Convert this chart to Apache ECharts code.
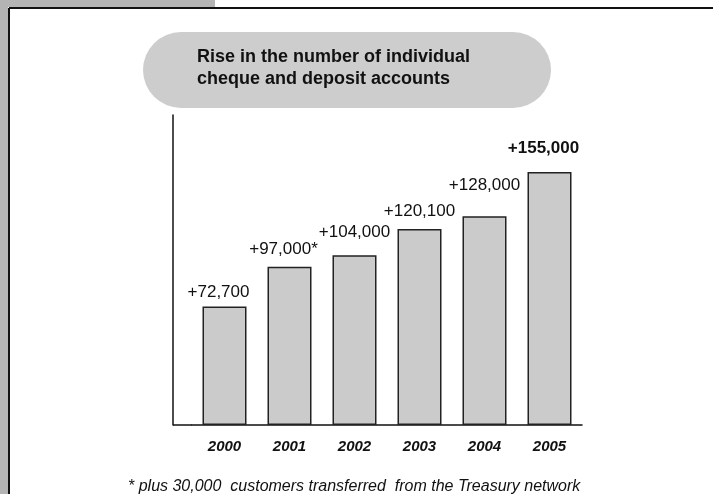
<!DOCTYPE html>
<html>
<head>
<meta charset="utf-8">
<script src="https://cdn.jsdelivr.net/npm/echarts@6/dist/echarts.min.js"></script>
<style>
html,body{margin:0;padding:0;background:#fff;}
#chart{width:713px;height:494px;}
</style>
</head>
<body>
<div id="chart"></div>
<script>
// ---- data ----
const years = ['2000', '2001', '2002', '2003', '2004', '2005'];
const increases = [72700, 97000, 104000, 120100, 128000, 155000];
const footnoteMarks = ['', '*', '', '', '', ''];
const titleText = 'Rise in the number of individual\ncheque and deposit accounts';
const footnoteText = '* plus 30,000  customers transferred  from the Treasury network';

// ---- label styling (not data) ----
const labelDistance = [6, 9, 15, 9, 22, 15];
const labelShiftX = [-6, -6, 0, 0, 0, -6];
const boldLast = true;

const chart = echarts.init(document.getElementById('chart'), null, {renderer: 'canvas'});

const fontFam = '"Liberation Sans", Arial, Helvetica, sans-serif';

const barData = increases.map((v, i) => ({
  value: v,
  label: {
    distance: labelDistance[i],
    offset: [labelShiftX[i], 0],
    fontWeight: (boldLast && i === increases.length - 1) ? 'bold' : 'normal'
  }
}));

const option = {
  backgroundColor: '#ffffff',
  animation: false,
  title: [
    {
      text: titleText,
      left: 143,
      top: 32,
      padding: [14, 81, 18, 54],
      backgroundColor: '#cdcdcd',
      borderRadius: 38,
      textStyle: {
        fontFamily: fontFam,
        fontSize: 18,
        fontWeight: 'bold',
        color: '#111',
        lineHeight: 22
      }
    },
    {
      text: footnoteText,
      left: 128,
      top: 479,
      padding: 0,
      textStyle: {
        fontFamily: fontFam,
        fontSize: 16,
        fontStyle: 'italic',
        fontWeight: 'normal',
        color: '#111'
      }
    }
  ],
  grid: {left: 192, right: 131, top: 115, bottom: 69},
  xAxis: {
    type: 'category',
    data: years,
    axisLine: {show: true, lineStyle: {color: '#111', width: 1.5}},
    axisTick: {show: false},
    axisLabel: {
      margin: 14,
      fontFamily: fontFam,
      fontSize: 15,
      fontWeight: 'bold',
      fontStyle: 'italic',
      color: '#111'
    }
  },
  yAxis: {
    type: 'value',
    min: 0,
    max: 190000,
    offset: 19,
    axisLine: {show: true, lineStyle: {color: '#111', width: 1.5}},
    axisTick: {show: false},
    axisLabel: {show: false},
    splitLine: {show: false}
  },
  series: [{
    type: 'bar',
    data: barData,
    barWidth: 44,
    itemStyle: {
      color: '#cbcbcb',
      borderColor: '#222',
      borderWidth: 1.5
    },
    label: {
      show: true,
      position: 'top',
      fontFamily: fontFam,
      fontSize: 17,
      color: '#111',
      formatter: p => '+' + increases[p.dataIndex].toLocaleString('en-US') + footnoteMarks[p.dataIndex]
    }
  }],
  graphic: [
    {type: 'rect', shape: {x: 0, y: 0, width: 8, height: 494}, style: {fill: '#b4b4b4'}, silent: true},
    {type: 'rect', shape: {x: 0, y: 0, width: 215, height: 7}, style: {fill: '#b4b4b4'}, silent: true},
    {type: 'line', shape: {x1: 9, y1: 8, x2: 713, y2: 8}, style: {stroke: '#111', lineWidth: 2}, silent: true},
    {type: 'line', shape: {x1: 9, y1: 8, x2: 9, y2: 494}, style: {stroke: '#111', lineWidth: 2}, silent: true}
  ]
};

chart.setOption(option);

// extend the x-axis baseline left to meet the offset y-axis line
const y0 = chart.convertToPixel({gridIndex: 0}, [0, 0])[1];
const gridLeft = 192;
chart.setOption({
  graphic: option.graphic.concat([
    {type: 'line', shape: {x1: gridLeft - 19, y1: y0, x2: gridLeft, y2: y0}, style: {stroke: '#111', lineWidth: 1.5}, silent: true}
  ])
});
</script>
</body>
</html>
